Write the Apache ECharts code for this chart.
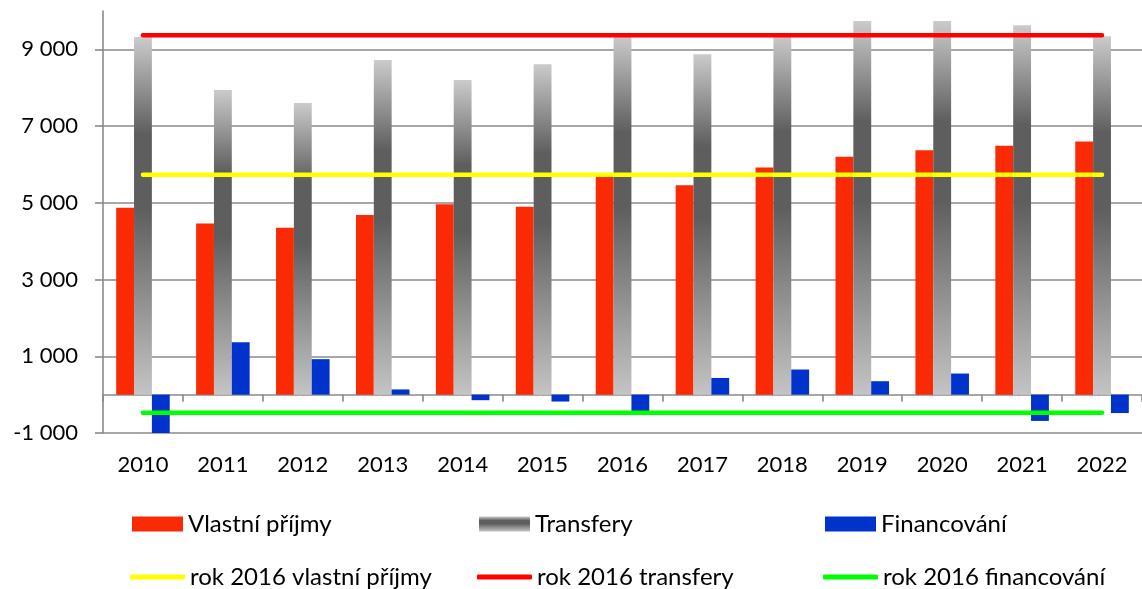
<!DOCTYPE html>
<html>
<head>
<meta charset="utf-8">
<script src="https://cdn.jsdelivr.net/npm/echarts@6/dist/echarts.min.js"></script>
<style>
html,body{margin:0;padding:0;background:#fff;}
#chart{width:1142px;height:589px;}
</style>
</head>
<body>
<div id="chart"></div>
<script>
const categories = ['2010','2011','2012','2013','2014','2015','2016','2017','2018','2019','2020','2021','2022'];
const vlastniPrijmy = [4870, 4460, 4350, 4680, 4965, 4895, 5730, 5460, 5920, 6200, 6370, 6490, 6600];
const transfery = [9320, 7940, 7600, 8720, 8200, 8615, 9370, 8875, 9390, 9740, 9740, 9630, 9345];
const financovani = [-1000, 1365, 925, 135, -145, -180, -475, 435, 655, 350, 550, -685, -480];
const rok2016Vlastni = 5730;
const rok2016Transfery = 9370;
const rok2016Financovani = -475;
const yTicks = [-1000, 1000, 3000, 5000, 7000, 9000];
const yMin = -1000, yMax = 10000, yStep = 2000;

const seriesNames = ['Vlastní příjmy','Transfery','Financování','rok 2016 vlastní příjmy','rok 2016 transfery','rok 2016 financování'];

const FONT = 'Lato';
function fmt(v){
  const s = String(Math.abs(v)).replace(/\B(?=(\d{3})+(?!\d))/g, ' ');
  return (v < 0 ? '-' : '') + s;
}
const grayGrad = new echarts.graphic.LinearGradient(0,0,0,1,[
  {offset:0, color:'#cbcbcb'},
  {offset:0.27, color:'#5e5e5e'},
  {offset:0.48, color:'#5e5e5e'},
  {offset:1, color:'#c4c4c4'}
]);

const chart = echarts.init(document.getElementById('chart'), null, {renderer:'canvas'});
const legendText = {fontFamily:FONT, fontSize:24, color:'#000'};
const colX = [132, 479, 825];
const rowY = [512, 565];
const legends = seriesNames.map((n,i)=>({
  data:[n],
  left: colX[i%3] - (i<3 ? 0 : 2),
  top: rowY[Math.floor(i/3)],
  itemWidth: i<3 ? 51 : 55,
  itemHeight: i<3 ? 15 : 5,
  icon: i<3 ? 'rect' : 'roundRect',
  itemGap: 0,
  padding: 0,
  textStyle: legendText,
  selectedMode:false
}));

const lineCommon = (name, val, color) => ({
  name, type:'line',
  data: categories.map(()=>val),
  symbol:'none', showSymbol:false,
  lineStyle:{color, width:4.5, cap:'round'},
  itemStyle:{color},
  z:5, animation:false, silent:true
});

const axisGray = '#8a8a8a';
chart.setOption({
  animation:false,
  backgroundColor:'#ffffff',
  textStyle:{fontFamily:FONT},
  grid:{left:103, top:11, right:-10, bottom:156, containLabel:false},
  legend: legends,
  xAxis:[
    {type:'category', data:categories, position:'bottom',
     axisLine:{show:false, onZero:false}, axisTick:{show:false},
     axisLabel:{fontFamily:FONT, fontSize:22, color:'#000', margin:21},
     splitLine:{show:false}},
    {type:'category', data:categories, position:'bottom',
     axisLine:{show:true, onZero:true, lineStyle:{color:axisGray, width:1.6}},
     axisTick:{show:true, length:7, lineStyle:{color:axisGray, width:1.6}},
     axisLabel:{show:false}, splitLine:{show:false}}
  ],
  yAxis:{
    type:'value', min:yMin, max:yMax, interval:yStep,
    axisLine:{show:true, lineStyle:{color:axisGray, width:1.6}},
    axisTick:{show:true, length:8, lineStyle:{color:axisGray, width:1.6}, customValues: yTicks},
    axisLabel:{fontFamily:FONT, fontSize:22, color:'#000', margin:25, formatter:fmt, customValues: yTicks},
    splitLine:{show:true, lineStyle:{color:axisGray, width:1.6}}
  },
  series:[
    {name:seriesNames[0], type:'bar', xAxisIndex:0, data:vlastniPrijmy, barGap:'0%', barCategoryGap:'33%', itemStyle:{color:'#fa2a05'}},
    {name:seriesNames[1], type:'bar', xAxisIndex:0, data:transfery, barGap:'0%', barCategoryGap:'33%', itemStyle:{color:grayGrad}},
    {name:seriesNames[2], type:'bar', xAxisIndex:0, data:financovani, barGap:'0%', barCategoryGap:'33%', itemStyle:{color:'#0033cc'}},
    lineCommon(seriesNames[3], rok2016Vlastni, '#ffff00'),
    lineCommon(seriesNames[4], rok2016Transfery, '#ff0000'),
    lineCommon(seriesNames[5], rok2016Financovani, '#00ff00')
  ]
});
</script>
</body>
</html>
